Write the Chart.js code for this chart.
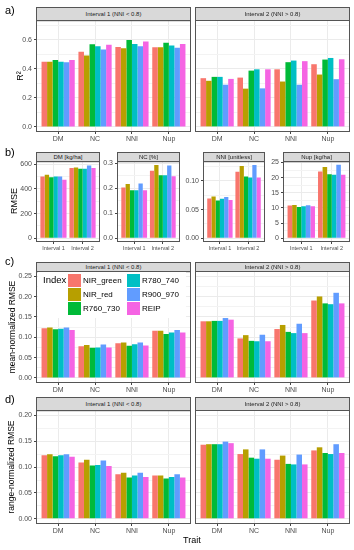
<!DOCTYPE html>
<html>
<head>
<meta charset="utf-8">
<script src="https://cdn.jsdelivr.net/npm/chart.js@4"></script>
<style>
body { margin: 0; background: #fff; font-family: 'Liberation Sans', Arial, sans-serif; }
#page { position: relative; width: 354px; height: 550px; overflow: hidden; background: #fff; }
canvas { position: absolute; }
.strip { position: absolute; background: #d9d9d9; border: 1px solid #555; box-sizing: border-box;
         font-size: 6px; color: #1a1a1a; text-align: center; white-space: nowrap; overflow: hidden; }
.tag { position: absolute; font-size: 11px; color: #000; }
.ytitle { position: absolute; width: 200px; height: 12px; line-height: 12px; text-align: center;
          transform: rotate(-90deg); white-space: nowrap; color: #000; }
.lab { position: absolute; white-space: nowrap; color: #000; }
.key { position: absolute; width: 13px; height: 13px; }
</style>
</head>
<body>
<div id="page"></div>
<script>
// categories / series
const indices = ['NIR_green', 'NIR_red', 'R760_730', 'R780_740', 'R900_970', 'REIP'];
const colors = ['#F8766D', '#B79F00', '#00BA38', '#00BFC4', '#619CFF', '#F564E3'];
const traits = ['DM', 'NC', 'NNI', 'Nup'];
const intervals = ['Interval 1', 'Interval 2'];
const facetTitles = ['Interval 1 (NNI < 0.8)', 'Interval 2 (NNI > 0.8)'];
const rmseTitles = ['DM [kg/ha]', 'NC [%]', 'NNI [unitless]', 'Nup [kg/ha]'];

// a) R2, one row per index, values for DM, NC, NNI, Nup
const r2Int1 = [
  [0.449, 0.517, 0.551, 0.548],
  [0.449, 0.492, 0.542, 0.548],
  [0.461, 0.569, 0.598, 0.580],
  [0.449, 0.555, 0.571, 0.560],
  [0.445, 0.533, 0.555, 0.546],
  [0.461, 0.566, 0.589, 0.571]
];
const r2Int2 = [
  [0.335, 0.339, 0.396, 0.431],
  [0.317, 0.263, 0.312, 0.360],
  [0.344, 0.387, 0.445, 0.463],
  [0.344, 0.396, 0.456, 0.474],
  [0.290, 0.265, 0.290, 0.328],
  [0.330, 0.396, 0.452, 0.465]
];

// b) RMSE, one row per index, values for Interval 1, Interval 2
const rmseDM = [[500, 568], [514, 573], [495, 562], [500, 562], [500, 589], [473, 568]];
const rmseNC = [[0.203, 0.270], [0.217, 0.293], [0.192, 0.252], [0.192, 0.252], [0.219, 0.291], [0.192, 0.248]];
const rmseNNI = [[0.0696, 0.116], [0.073, 0.126], [0.066, 0.108], [0.069, 0.106], [0.072, 0.128], [0.067, 0.106]];
const rmseNup = [[10.8, 22.0], [11.0, 23.5], [10.3, 21.1], [10.6, 20.9], [10.9, 24.2], [10.6, 20.9]];

// c) mean-normalized RMSE
const mnInt1 = [
  [0.122, 0.078, 0.085, 0.116],
  [0.124, 0.081, 0.087, 0.116],
  [0.120, 0.074, 0.079, 0.108],
  [0.121, 0.075, 0.083, 0.112],
  [0.124, 0.082, 0.087, 0.118],
  [0.118, 0.075, 0.080, 0.112]
];
const mnInt2 = [
  [0.139, 0.097, 0.120, 0.190],
  [0.139, 0.105, 0.130, 0.200],
  [0.140, 0.091, 0.113, 0.183],
  [0.140, 0.090, 0.110, 0.181],
  [0.147, 0.106, 0.133, 0.209],
  [0.143, 0.090, 0.110, 0.183]
];

// d) range-normalized RMSE
const rnInt1 = [
  [0.123, 0.109, 0.086, 0.084],
  [0.125, 0.114, 0.089, 0.084],
  [0.121, 0.103, 0.080, 0.078],
  [0.123, 0.104, 0.084, 0.081],
  [0.125, 0.113, 0.089, 0.086],
  [0.120, 0.102, 0.081, 0.080]
];
const rnInt2 = [
  [0.143, 0.125, 0.114, 0.132],
  [0.144, 0.134, 0.122, 0.138],
  [0.144, 0.118, 0.106, 0.127],
  [0.144, 0.116, 0.105, 0.125],
  [0.149, 0.134, 0.124, 0.144],
  [0.146, 0.116, 0.105, 0.127]
];

// tick labels
const r2Ticks = [0, 0.2, 0.4, 0.6];
const dmTicks = [0, 200, 400, 600];
const ncTicks = [0, 0.1, 0.2, 0.3];
const nniTicks = [0, 0.05, 0.10];
const nupTicks = [0, 5, 10, 15, 20, 25];
const mnTicks = [0, 0.05, 0.10, 0.15, 0.20, 0.25];
const rnTicks = [0, 0.05, 0.10, 0.15, 0.20];

Chart.defaults.font.family = "'Liberation Sans', Arial, sans-serif";

const page = document.getElementById('page');

function addDiv(cls, text, css) {
  const d = document.createElement('div');
  d.className = cls;
  d.textContent = text;
  Object.assign(d.style, css);
  page.appendChild(d);
  return d;
}

// white panel with grey border, like theme_bw
const panelBox = {
  id: 'panelBox',
  beforeDraw(chart) {
    const a = chart.chartArea, ctx = chart.ctx;
    ctx.save();
    ctx.fillStyle = '#fff';
    ctx.fillRect(a.left, a.top, a.right - a.left, a.bottom - a.top);
    ctx.restore();
  },
  afterDatasetsDraw(chart) {
    const a = chart.chartArea, ctx = chart.ctx;
    ctx.save();
    ctx.strokeStyle = '#555';
    ctx.lineWidth = 1;
    ctx.strokeRect(a.left + 0.5, a.top + 0.5, a.right - a.left - 1, a.bottom - a.top - 1);
    ctx.restore();
  }
};

function makeSets(rows) {
  return indices.map((name, k) => ({
    label: name,
    backgroundColor: colors[k],
    borderWidth: 0,
    categoryPercentage: 0.9,
    barPercentage: 1,
    data: rows[k].map((v, i) => ({ x: i + 1, y: v }))
  }));
}

function facet(p) {
  const padT = 6, padR = 3;
  const cv = document.createElement('canvas');
  const w = (p.x1 - p.x0) + p.yW + padR;
  const h = (p.y1 - p.y0) + padT + p.xH;
  cv.width = w; cv.height = h;
  cv.style.left = (p.x0 - p.yW) + 'px';
  cv.style.top = (p.y0 - padT) + 'px';
  cv.style.width = w + 'px';
  cv.style.height = h + 'px';
  page.appendChild(cv);

  const step = p.major[1] - p.major[0];
  const minor = [];
  for (let v = step / 2; v < p.yMax; v += step) {
    if (!p.major.some(m => Math.abs(m - v) < 1e-9)) minor.push(v);
  }
  const yVals = p.major.concat(minor).sort((a, b) => a - b);
  const isMajor = v => p.major.some(m => Math.abs(m - v) < 1e-9);
  const n = p.labels.length;

  new Chart(cv, {
    type: 'bar',
    data: { datasets: makeSets(p.rows) },
    options: {
      responsive: false,
      animation: false,
      layout: { padding: { top: padT, right: padR, left: 0, bottom: 0 } },
      plugins: { legend: { display: false }, tooltip: { enabled: false } },
      scales: {
        x: {
          type: 'linear', min: 0.4, max: n + 0.6, offset: false,
          afterBuildTicks: s => { s.ticks = p.labels.map((l, i) => ({ value: i + 1 })); },
          afterFit: s => { s.height = p.xH; },
          border: { display: false },
          grid: { offset: false, color: '#ebebeb', lineWidth: 1, tickLength: 2, tickColor: '#444' },
          ticks: {
            autoSkip: false, maxRotation: 0, padding: 1, color: '#4d4d4d',
            font: { size: p.xFont },
            callback: v => p.labels[Math.round(v) - 1] || ''
          }
        },
        y: {
          type: 'linear', min: p.yMin, max: p.yMax,
          afterBuildTicks: s => { s.ticks = yVals.map(v => ({ value: v })); },
          afterFit: s => { s.width = p.yW; },
          border: { display: false },
          grid: {
            color: c => (c.tick && !isMajor(c.tick.value)) ? '#f3f3f3' : '#ebebeb',
            lineWidth: 1,
            drawTicks: p.yW > 0,
            tickLength: 2,
            tickColor: c => (c.tick && !isMajor(c.tick.value)) ? 'rgba(0,0,0,0)' : '#444'
          },
          ticks: {
            display: p.yW > 0, autoSkip: false, padding: 2, color: '#4d4d4d',
            font: { size: 7 },
            callback: v => isMajor(v) ? p.fmt(v) : ''
          }
        }
      }
    },
    plugins: [panelBox]
  });
}

const f1 = v => v.toFixed(1);
const f2 = v => v.toFixed(2);
const f0 = v => v.toFixed(0);

// a) R2
facet({ x0: 36, x1: 191, y0: 20, y1: 132, yW: 36, xH: 12, xFont: 7, labels: traits,
        rows: r2Int1, yMin: -0.035, yMax: 0.735, major: r2Ticks, fmt: f1 });
facet({ x0: 195, x1: 350, y0: 20, y1: 132, yW: 0, xH: 12, xFont: 7, labels: traits,
        rows: r2Int2, yMin: -0.035, yMax: 0.735, major: r2Ticks, fmt: f1 });

// b) RMSE
facet({ x0: 36, x1: 100, y0: 161, y1: 242, yW: 36, xH: 10, xFont: 5.5, labels: intervals,
        rows: rmseDM, yMin: -29.5, yMax: 624, major: dmTicks, fmt: f0 });
facet({ x0: 117, x1: 180, y0: 161, y1: 242, yW: 20, xH: 10, xFont: 5.5, labels: intervals,
        rows: rmseNC, yMin: -0.0147, yMax: 0.308, major: ncTicks, fmt: f1 });
facet({ x0: 203, x1: 265, y0: 161, y1: 242, yW: 20, xH: 10, xFont: 5.5, labels: intervals,
        rows: rmseNNI, yMin: -0.0064, yMax: 0.1345, major: nniTicks, fmt: f2 });
facet({ x0: 283, x1: 350, y0: 161, y1: 242, yW: 16, xH: 10, xFont: 5.5, labels: intervals,
        rows: rmseNup, yMin: -1.21, yMax: 25.4, major: nupTicks, fmt: f0 });

// c) mean-normalized RMSE
facet({ x0: 36, x1: 191, y0: 271, y1: 383, yW: 36, xH: 12, xFont: 7, labels: traits,
        rows: mnInt1, yMin: -0.0125, yMax: 0.2625, major: mnTicks, fmt: f2 });
facet({ x0: 195, x1: 350, y0: 271, y1: 383, yW: 0, xH: 12, xFont: 7, labels: traits,
        rows: mnInt2, yMin: -0.0125, yMax: 0.2625, major: mnTicks, fmt: f2 });

// d) range-normalized RMSE
facet({ x0: 36, x1: 191, y0: 410, y1: 524, yW: 36, xH: 12, xFont: 7, labels: traits,
        rows: rnInt1, yMin: -0.01, yMax: 0.21, major: rnTicks, fmt: f2 });
facet({ x0: 195, x1: 350, y0: 410, y1: 524, yW: 0, xH: 12, xFont: 7, labels: traits,
        rows: rnInt2, yMin: -0.01, yMax: 0.21, major: rnTicks, fmt: f2 });

// strips
function strip(text, x0, x1, top, h, size) {
  addDiv('strip', text, { left: x0 + 'px', top: top + 'px', width: (x1 - x0) + 'px',
    height: h + 'px', lineHeight: (h - 2) + 'px', fontSize: size + 'px' });
}
strip(facetTitles[0], 36, 191, 7, 14, 6);
strip(facetTitles[1], 195, 350, 7, 14, 6);
[[36, 100], [117, 180], [203, 265], [283, 350]].forEach((r, i) => strip(rmseTitles[i], r[0], r[1], 152, 10, 6));
strip(facetTitles[0], 36, 191, 262, 10, 6);
strip(facetTitles[1], 195, 350, 262, 10, 6);
strip(facetTitles[0], 36, 191, 397, 14, 6);
strip(facetTitles[1], 195, 350, 397, 14, 6);

// panel tags
addDiv('tag', 'a)', { left: '5px', top: '4px' });
addDiv('tag', 'b)', { left: '5px', top: '146px' });
addDiv('tag', 'c)', { left: '5px', top: '255px' });
addDiv('tag', 'd)', { left: '5px', top: '393px' });

// axis titles
function ytitle(text, cx, cy, size) {
  addDiv('ytitle', text, { left: (cx - 100) + 'px', top: (cy - 6) + 'px', fontSize: size + 'px' });
}
ytitle('R²', 20, 76, 9);
ytitle('RMSE', 14, 201, 9);
ytitle('mean-normalized RMSE', 12, 327, 8.5);
ytitle('range-normalized RMSE', 11, 467, 8.5);
addDiv('lab', 'Trait', { left: '183px', top: '535px', fontSize: '9px' });

// legend inside panel c
addDiv('lab', '', { left: '38px', top: '272px', width: '148px', height: '46px', background: '#fff' });
addDiv('lab', 'Index', { left: '43px', top: '274px', fontSize: '9.5px' });
indices.forEach((name, k) => {
  const col = Math.floor(k / 3), row = k % 3;
  const kx = col === 0 ? 68 : 127;
  const ky = 274 + row * 14;
  addDiv('key', '', { left: kx + 'px', top: ky + 'px', background: colors[k] });
  addDiv('lab', name, { left: (kx + 15) + 'px', top: (ky + 2) + 'px', fontSize: '8px' });
});
</script>
</body>
</html>
